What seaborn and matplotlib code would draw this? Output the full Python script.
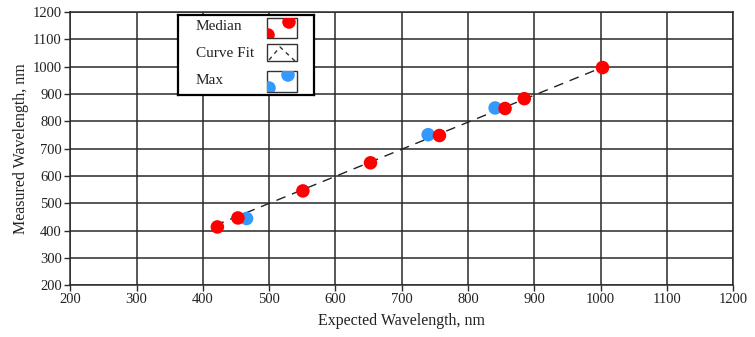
import matplotlib
matplotlib.use("Agg")
import matplotlib.pyplot as plt
from matplotlib.patches import Rectangle
import numpy as np
import pandas as pd
import seaborn as sns

# values
median_x = [422, 453, 551, 653, 757, 856, 885, 1003]
median_y = [413, 446, 545, 648, 748, 847, 883, 997]
max_x = [466, 740, 841]
max_y = [444, 751, 849]
fit_x = [418, 1003]
fit_y = [418, 998]

x_ticks = [200, 300, 400, 500, 600, 700, 800, 900, 1000, 1100, 1200]
y_ticks = [200, 300, 400, 500, 600, 700, 800, 900, 1000, 1100, 1200]

legend_labels = ['Median', 'Curve Fit', 'Max']

sns.set_style("white")
plt.rcParams['font.family'] = ['Liberation Serif', 'DejaVu Serif']

df_med = pd.DataFrame({'x': median_x, 'y': median_y})
df_max = pd.DataFrame({'x': max_x, 'y': max_y})
df_fit = pd.DataFrame({'x': fit_x, 'y': fit_y})

RED = '#ff0000'
BLUE = '#3399ff'

fig = plt.figure(figsize=(7.55, 3.37), dpi=100)
ax = fig.add_axes([0.093, 0.154, 0.878, 0.81])

sns.lineplot(data=df_fit, x='x', y='y', ax=ax, color='#222222', lw=1,
             legend=False, zorder=2)
ax.lines[0].set_dashes((7, 5))
sns.scatterplot(data=df_max, x='x', y='y', ax=ax, color=BLUE, s=95,
                edgecolor='none', legend=False, zorder=3)
sns.scatterplot(data=df_med, x='x', y='y', ax=ax, color=RED, s=95,
                edgecolor='none', legend=False, zorder=4)

ax.set_xlim(200, 1200)
ax.set_ylim(200, 1200)
ax.set_xticks(x_ticks)
ax.set_yticks(y_ticks)
ax.grid(True, color='#2a2a2a', lw=1.1)
for s in ax.spines.values():
    s.set_color('#2a2a2a')
    s.set_linewidth(1.1)
ax.tick_params(axis='both', direction='out', length=4, width=1, color='#2a2a2a',
               labelsize=10.5, labelcolor='#222222', bottom=True, left=True, pad=2)
ax.set_xlabel('Expected Wavelength, nm', fontsize=11.5, color='#222222', labelpad=5)
ax.set_ylabel('Measured Wavelength, nm', fontsize=11.5, color='#222222', labelpad=3)

# legend box drawn by hand (pixel-like coords inside the box)
lg = fig.add_axes([178 / 755, 1 - 95 / 337, 136 / 755, 80 / 337])
lg.set_xlim(0, 136)
lg.set_ylim(80, 0)
lg.set_xticks([])
lg.set_yticks([])
lg.set_facecolor('white')
for s in lg.spines.values():
    s.set_color('black')
    s.set_linewidth(1.6)

text_y = [11.5, 38.5, 65]
sw_y = [(2.5, 23), (29, 46), (56, 77)]
for lab, ty in zip(legend_labels, text_y):
    lg.text(18, ty, lab, fontsize=11, va='center', ha='left', color='#222222')

for (y0, y1) in sw_y:
    lg.add_patch(Rectangle((89, y0), 30, y1 - y0, fill=False,
                           edgecolor='#333333', lw=1))

# median swatch
clip_m = Rectangle((89, sw_y[0][0]), 30, sw_y[0][1] - sw_y[0][0],
                   transform=lg.transData)
sc = lg.scatter([111, 90], [7, 20], s=95, color=RED, edgecolor='none')
sc.set_clip_path(clip_m)
# max swatch
clip_x = Rectangle((89, sw_y[2][0]), 30, sw_y[2][1] - sw_y[2][0],
                   transform=lg.transData)
sc = lg.scatter([110, 91], [60, 73], s=95, color=BLUE, edgecolor='none')
sc.set_clip_path(clip_x)
# curve fit swatch
ln, = lg.plot([91, 102, 117], [45, 32, 46], color='#333333', lw=1)
ln.set_dashes((3, 3))

fig.savefig('out.png', dpi=100)
